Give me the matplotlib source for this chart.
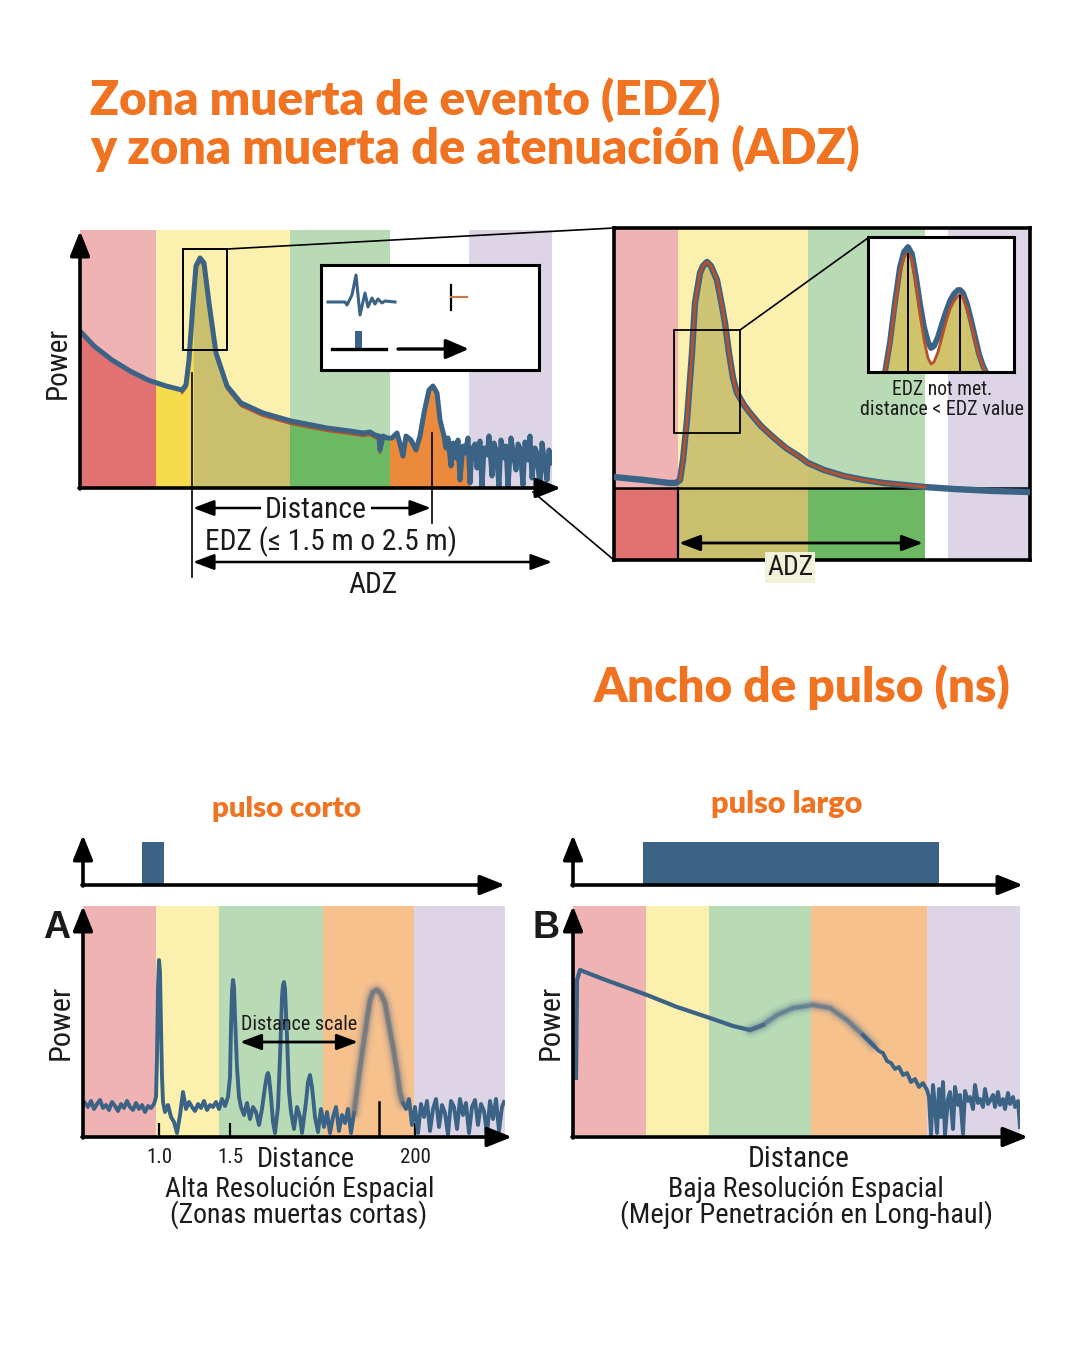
import matplotlib
matplotlib.use("Agg")
import matplotlib.pyplot as plt
from matplotlib import font_manager as fm
from matplotlib.patches import Rectangle

# ------------------------------------------------------------------ data
# Panel 1: OTDR trace, distance vs power (arbitrary units)
p1_dist = [0, 14, 32, 50, 68, 86, 102, 106, 109, 113, 116, 120, 124, 129, 136, 147, 161, 183, 211, 247,
           270, 283, 290, 295, 299, 300, 303, 307, 312, 317, 320, 323, 326, 331, 336, 340, 344, 349, 353, 357,
           360, 364, 366, 368, 371, 373, 376, 378, 380, 383, 385, 388, 390, 392, 395, 397, 400, 402, 404, 407,
           409, 412, 414, 416, 419, 421, 424, 426, 428, 431, 433, 436, 438, 440, 443, 445, 448, 450, 452, 455,
           457, 460, 462, 464, 467, 469, 471]
p1_power = [157, 142, 128, 117, 108, 102, 98, 103, 128, 185, 222, 230, 225, 185, 135, 102, 85, 75, 67, 60,
            57, 55, 56, 53, 52, 38, 52, 50, 50, 55, 44, 32, 52, 48, 38, 52, 75, 98, 102, 95,
            68, 52, 40, 50, 22, 45, 30, 48, 8, 42, 35, 50, 5, 38, 44, 20, 47, 0, 40, 33,
            52, 12, 45, 38, 2, 48, 30, 42, 0, 50, 36, 18, 44, 40, 3, 46, 28, 52, 10, 40,
            35, 0, 45, 30, 8, 38, 25]
p1_zones = [0, 76, 114, 210, 310, 389, 472]

# Panel 2: zoom on the first reflection
p2_dist = [0, 30, 55, 62, 66, 69, 73, 78, 81, 86, 89, 93, 97, 103, 108, 111, 115, 119, 123, 130,
           136, 147, 159, 172, 186, 194, 210, 230, 250, 270, 290, 311, 340, 380, 416]
p2_power = [11, 8, 5, 5, 8, 28, 68, 135, 185, 215, 222, 226, 222, 208, 182, 165, 135, 110, 95, 83,
            75, 62, 51, 40, 31, 25, 18, 12, 8, 5, 3, 1, -1, -3, -4]
p2_zones = [0, 64, 194, 311, 334, 416]

# Panel 3: two unresolved events
p3_dist = [17, 22, 27, 32, 36, 40, 44, 48, 52, 56, 60, 63, 66, 70, 74, 78, 82, 86, 90, 92,
           95, 99, 103, 107, 111, 115, 118]
p3_outer = [0, 30, 70, 105, 120, 125, 118, 95, 68, 45, 30, 24, 26, 35, 48, 60, 71, 78, 82, 82,
            79, 68, 52, 35, 18, 6, 0]
p3_inner = [0, 28, 67, 100, 115, 119, 112, 88, 58, 32, 14, 8, 10, 20, 35, 50, 63, 71, 76, 77,
            74, 63, 48, 32, 16, 5, 0]

# legend wavelet
wave_t = [7, 24, 26, 31, 35, 39, 44, 47, 51, 54, 57, 61, 64, 74]
wave_amp = [68, 68, 65, 75, 95, 55, 77, 63, 72, 66, 71, 67, 69, 68]

# pulses: start, width (time units), height
pulse_short = [59, 22]
pulse_long = [70, 296]
pulse_height = 43

# Panel A: short pulse trace
a_zones = [0, 73, 136, 240, 331, 422]
a_pre_dist = [2, 5, 8, 11, 14, 17, 20, 23, 26, 29, 32, 35, 38, 41, 44, 47, 50, 53, 56, 59, 62, 65, 68, 71,
              73, 74, 75, 76, 77, 78, 79, 80, 82, 85, 88, 91, 94, 97,
              100, 103, 106, 109, 112, 115, 118, 121, 124, 127, 130, 133, 136, 139, 142, 145,
              147, 148, 149, 150, 151, 152, 154, 156, 158,
              161, 164, 167, 170, 173, 176, 179,
              182, 184, 185, 186, 188, 190, 192,
              195, 197, 199, 200, 201, 202, 204, 206, 208,
              211, 214, 217, 219, 223, 225, 227, 229, 232, 235,
              238, 241, 244, 247, 250, 253, 256, 259, 262, 265, 268, 271]
a_pre_power = [34, 30, 36, 28, 33, 37, 29, 32, 27, 35, 31, 26, 33, 29, 36, 30, 27, 34, 28, 32, 25, 31, 29, 33,
               40, 80, 150, 177, 165, 110, 60, 35, 25, 32, 20, 15, 4, 22,
               45, 28, 35, 30, 26, 33, 29, 36, 27, 32, 30, 35, 28, 38, 31, 40,
               60, 110, 145, 157, 150, 120, 70, 40, 30,
               22, 34, 18, 30, 25, 12, 28,
               50, 62, 64, 60, 40, 15, 4,
               30, 80, 140, 152, 155, 148, 100, 45, 25,
               8, 30, 20, 4, 35, 55, 62, 50, 20, 5,
               28, 10, 25, 4, 20, 30, 6, 22, 14, 28, 4, 24]
a_bump_dist = [271, 276, 280, 284, 287, 290, 294, 298, 302, 306, 310, 314, 317, 320]
a_bump_power = [24, 62, 90, 118, 137, 145, 147, 143, 134, 112, 90, 66, 44, 34]
a_post_dist = [320, 323, 326, 329, 332, 335, 338, 341, 344, 347, 350, 353, 356, 359, 362, 365, 368, 371,
               374, 377, 380, 383, 386, 389, 392, 395, 398, 401, 404, 407, 410, 413, 416, 419, 421]
a_post_power = [34, 28, 38, 12, 30, 4, 33, 20, 36, 6, 28, 38, 10, 32, 24, 2, 36, 30,
                8, 38, 22, 34, 4, 30, 37, 12, 33, 26, 3, 36, 18, 38, 6, 30, 35]
a_ticks = [76, 147, 332]
a_tick_labels = ["1.0", "1.5", "200"]
a_marker = [296, 35]

# Panel B: long pulse trace
b_zones = [0, 73, 136, 238, 354, 447]
b_dist = [3, 4, 7, 30, 52, 74, 104, 137, 160, 177, 190, 204, 220, 240, 257, 274, 290, 300, 306, 310,
          314, 318, 322, 326, 330, 334, 338, 342, 346, 350, 354,
          356, 358, 360, 362, 364, 366, 368, 370, 372, 375, 377, 380, 382, 385, 387, 390, 392, 395, 397, 400,
          402, 405, 407, 410, 412, 415, 417, 420, 422, 425, 427, 430, 432, 435, 437, 440, 442, 445, 447]
b_power = [59, 157, 167, 158, 150, 142, 130, 119, 111, 107, 112, 122, 129, 132, 129, 117, 102, 92, 86, 84,
           76, 74, 68, 70, 62, 64, 55, 58, 50, 54, 47,
           40, 2, 52, 30, 4, 48, 20, 55, 2, 38, 45, 8, 50, 32, 42, 3, 46, 36, 40, 28,
           52, 34, 38, 30, 48, 33, 36, 42, 30, 45, 32, 38, 28, 44, 33, 40, 30, 36, 10]

# ------------------------------------------------------------------ style
W, H = 1080, 1350
names = {f.name for f in fm.fontManager.ttflist}
COND = next(n for n in ["Liberation Sans Narrow", "Roboto Condensed", "Roboto", "Liberation Sans", "DejaVu Sans"] if n in names)
TITLEF = next(n for n in ["Lato", "Open Sans", "Roboto", "DejaVu Sans"] if n in names)
plt.rcParams["font.family"] = [COND, "DejaVu Sans"]

ORANGE = "#EF7321"
BLUE = "#3B6385"
REDL = "#B8502B"
TXT = "#1b1b1b"
PALE = {"red": "#F0B3B3", "yel": "#FBF0AE", "grn": "#B8DAB5", "org": "#F7C18E", "pur": "#DDD5E5", "wht": "#FFFFFF"}
DEEP = {"red": "#E27272", "yel": "#F6DB4C", "olv": "#C9BF6C", "grn": "#6DB862", "org": "#EA8A3A"}

fig = plt.figure(figsize=(10.8, 13.5), dpi=100)
fig.patch.set_facecolor("white")
renderer = fig.canvas.get_renderer()


def px_axes(x0, y0, x1, y1, z=1):
    ax = fig.add_axes([x0 / W, 1 - y1 / H, (x1 - x0) / W, (y1 - y0) / H], zorder=z)
    return ax


def bare(ax):
    ax.set_xticks([])
    ax.set_yticks([])
    for s in ax.spines.values():
        s.set_visible(False)
    ax.patch.set_visible(False)


def label(x, y, s, w=None, h=None, size=16, **kw):
    kw.setdefault("ha", "center")
    kw.setdefault("va", "baseline")
    kw.setdefault("color", TXT)
    kw.setdefault("zorder", 40)
    t = fig.text(x / W, 1 - y / H, s, fontsize=size, **kw)
    if w or h:
        bb = t.get_window_extent(renderer)
        f = (w / bb.width) if w else (h / bb.height)
        t.set_fontsize(size * f)
    return t


def bands(ax, edges, cols, y0, y1):
    for a, b, c in zip(edges[:-1], edges[1:], cols):
        ax.add_patch(Rectangle((a, y0), b - a, y1 - y0, color=c, lw=0, zorder=0))


def zone_fill(ax, x, y, edges, cols, top):
    for a, b, c in zip(edges[:-1], edges[1:], cols):
        if c is None:
            continue
        poly = ax.fill_between(x, 0, y, color=c, lw=0, zorder=1)
        clip = Rectangle((a, 0), b - a, top, transform=ax.transData)
        poly.set_clip_path(clip)


# ------------------------------------------------------------------ titles
label(90, 115, "Zona muerta de evento (EDZ)", w=630, size=30, ha="left", color=ORANGE,
      family=TITLEF, fontweight="heavy")
label(90, 164, "y zona muerta de atenuación (ADZ)", w=768, size=30, ha="left", color=ORANGE,
      family=TITLEF, fontweight="heavy")
label(1010, 702, "Ancho de pulso (ns)", w=417, size=30, ha="right", color=ORANGE,
      family=TITLEF, fontweight="heavy")
label(287, 817, "pulso corto", w=149, size=18, color=ORANGE, family=TITLEF, fontweight="heavy")
label(787, 813, "pulso largo", w=151, size=18, color=ORANGE, family=TITLEF, fontweight="heavy")

# ------------------------------------------------------------------ panel 1
ax1 = px_axes(80, 230, 552, 488)
ax1.set_xlim(0, 472)
ax1.set_ylim(0, 258)
bare(ax1)
bands(ax1, p1_zones, [PALE["red"], PALE["yel"], PALE["yel"], PALE["grn"], PALE["wht"], PALE["pur"]], 0, 258)
zone_fill(ax1, p1_dist, p1_power, p1_zones,
          [DEEP["red"], DEEP["yel"], DEEP["olv"], DEEP["grn"], DEEP["org"], None], 258)
sel = [i for i, d in enumerate(p1_dist) if 100 <= d <= 300]
ax1.plot([p1_dist[i] for i in sel], [p1_power[i] - 3 for i in sel], color=REDL, lw=1.6, zorder=2)
ax1.plot(p1_dist, p1_power, color=BLUE, lw=3.6, zorder=3, solid_joinstyle="round")
ax1.add_patch(Rectangle((103, 138), 44, 101, fill=False, ec="black", lw=1.4, zorder=4))

# legend inset
axI = px_axes(321, 265, 539, 370, z=3)
axI.set_xlim(0, 218)
axI.set_ylim(0, 105)
axI.set_xticks([])
axI.set_yticks([])
for s in axI.spines.values():
    s.set_linewidth(2.2)
axI.plot(wave_t, wave_amp, color=BLUE, lw=2.2, solid_joinstyle="round")
axI.plot([130, 130], [60, 85], color="black", lw=1.6)
axI.plot([130, 146], [73, 73], color="#C97A45", lw=1.6)
axI.plot([11, 65], [21, 21], color="black", lw=2.4)
axI.add_patch(Rectangle((34, 21), 7, 18, color=BLUE, lw=0))
axI.annotate("", xy=(148, 21), xytext=(77, 21),
             arrowprops=dict(arrowstyle="-|>,head_length=0.7,head_width=0.3", lw=2.4, color="black",
                             shrinkA=0, shrinkB=0, mutation_scale=20))

# ------------------------------------------------------------------ panel 2
ax2 = px_axes(614, 228, 1030, 560)
ax2.set_xlim(0, 416)
ax2.set_ylim(-72, 260)
ax2.set_xticks([])
ax2.set_yticks([])
for s in ax2.spines.values():
    s.set_linewidth(2.6)
bands(ax2, p2_zones, [PALE["red"], PALE["yel"], PALE["grn"], PALE["wht"], PALE["pur"]], 0, 260)
bands(ax2, p2_zones, [DEEP["red"], DEEP["olv"], DEEP["grn"], PALE["wht"], PALE["pur"]], -72, 0)
poly = ax2.fill_between(p2_dist, 0, p2_power, color=DEEP["olv"], lw=0, zorder=1, alpha=0.9)
poly.set_clip_path(Rectangle((p2_zones[1], 0), p2_zones[3] - p2_zones[1], 260, transform=ax2.transData))
ax2.axhline(0, color="black", lw=1.8, zorder=2)
ax2.plot([p2_zones[1], p2_zones[1]], [-72, 0], color="black", lw=1.6, zorder=2)
ax2.plot(p2_dist, p2_power, color=BLUE, lw=4.6, zorder=3, solid_joinstyle="round", solid_capstyle="round")
sel2 = [i for i, d in enumerate(p2_dist) if p2_zones[1] <= d <= p2_zones[3]]
ax2.plot([p2_dist[i] for i in sel2], [p2_power[i] for i in sel2], color=REDL, lw=2.0, zorder=4,
         solid_joinstyle="round")
ax2.add_patch(Rectangle((60, 55), 66, 103, fill=False, ec="black", lw=1.3, zorder=5))

# inset: two peaks
ax3 = px_axes(868, 237, 1014, 372, z=3)
ax3.set_xlim(0, 146)
ax3.set_ylim(0, 135)
ax3.set_xticks([])
ax3.set_yticks([])
for s in ax3.spines.values():
    s.set_linewidth(2.2)
ax3.fill_between(p3_dist, 0, p3_inner, color="#CFC46B", lw=0)
ax3.plot(p3_dist, p3_outer, color=BLUE, lw=4.2, solid_joinstyle="round")
ax3.plot(p3_dist, p3_inner, color=REDL, lw=2.0, solid_joinstyle="round")
half = len(p3_dist) // 2
i1 = max(range(0, half), key=lambda i: p3_inner[i])
i2 = max(range(half, len(p3_dist)), key=lambda i: p3_inner[i])
ax3.vlines([p3_dist[i1], p3_dist[i2]], 0, [p3_inner[i1], p3_inner[i2]], color="black", lw=1.4)

label(942, 395, "EDZ not met.", w=100, size=13)
label(942, 415, "distance < EDZ value", w=163, size=13)

# ------------------------------------------------------------------ bottom: pulses
pA = px_axes(83, 835, 505, 885)
pA.set_xlim(0, 422)
pA.set_ylim(0, 50)
bare(pA)
pA.bar(pulse_short[0], pulse_height, width=pulse_short[1], align="edge", color=BLUE, lw=0)

pB = px_axes(573, 835, 1023, 885)
pB.set_xlim(0, 450)
pB.set_ylim(0, 50)
bare(pB)
pB.bar(pulse_long[0], pulse_height, width=pulse_long[1], align="edge", color=BLUE, lw=0)

# ------------------------------------------------------------------ panel A
axA = px_axes(83, 906, 505, 1137)
axA.set_xlim(0, 422)
axA.set_ylim(0, 231)
for s in axA.spines.values():
    s.set_visible(False)
axA.patch.set_visible(False)
axA.set_yticks([])
bands(axA, a_zones, [PALE["red"], PALE["yel"], PALE["grn"], PALE["org"], PALE["pur"]], 0, 231)
axA.plot(a_pre_dist, a_pre_power, color=BLUE, lw=2.8, zorder=3, solid_joinstyle="round")
axA.plot(a_post_dist, a_post_power, color=BLUE, lw=2.8, zorder=3, solid_joinstyle="round")
for lw, al in [(13, 0.06), (9, 0.10), (6.5, 0.16), (4.5, 0.30), (3, 0.55)]:
    axA.plot(a_bump_dist, a_bump_power, color="#54697E", lw=lw, alpha=al, zorder=3,
             solid_capstyle="round", solid_joinstyle="round")
axA.plot([a_marker[0], a_marker[0]], [0, a_marker[1]], color="black", lw=1.8, zorder=4)
axA.set_xticks(a_ticks)
axA.set_xticklabels(a_tick_labels)
axA.tick_params(axis="x", direction="in", length=10, width=1.6, color="black", pad=8,
                labelsize=15, labelcolor=TXT)

# ------------------------------------------------------------------ panel B
axB = px_axes(573, 906, 1020, 1137)
axB.set_xlim(0, 447)
axB.set_ylim(0, 231)
bare(axB)
bands(axB, b_zones, [PALE["red"], PALE["yel"], PALE["grn"], PALE["org"], PALE["pur"]], 2, 231)
s1 = [i for i, d in enumerate(b_dist) if d <= 190]
s2 = [i for i, d in enumerate(b_dist) if 177 <= d <= 300]
s3 = [i for i, d in enumerate(b_dist) if d >= 290]
axB.plot([b_dist[i] for i in s1], [b_power[i] for i in s1], color=BLUE, lw=3.0, zorder=3,
         solid_joinstyle="round")
for lw, al in [(12, 0.07), (8.5, 0.11), (6, 0.18), (4, 0.32), (2.6, 0.55)]:
    axB.plot([b_dist[i] for i in s2], [b_power[i] for i in s2], color="#4F6F8C", lw=lw, alpha=al,
             zorder=3, solid_capstyle="round", solid_joinstyle="round")
axB.plot([b_dist[i] for i in s3], [b_power[i] for i in s3], color=BLUE, lw=2.8, zorder=3,
         solid_joinstyle="round")

# ------------------------------------------------------------------ overlay (axes arrows, annotations)
ov = fig.add_axes([0, 0, 1, 1], zorder=20)
ov.set_xlim(0, W)
ov.set_ylim(H, 0)
ov.axis("off")
ov.patch.set_visible(False)


def arrow(x0, y0, x1, y1, style="-|>", lw=2.6, hl=0.75, hw=0.3, ms=20, color="black"):
    ov.annotate("", xy=(x1, y1), xytext=(x0, y0),
                arrowprops=dict(arrowstyle=f"{style},head_length={hl},head_width={hw}", lw=lw,
                                color=color, shrinkA=0, shrinkB=0, mutation_scale=ms))


# panel 1 axes
arrow(80, 489, 80, 231)
arrow(79, 488, 561, 488)
# connectors
ov.plot([227, 614], [249, 228], color="black", lw=1.2)
ov.plot([533, 614], [492, 560], color="black", lw=1.2)
ov.plot([740, 868], [330, 238], color="black", lw=1.2)
# EDZ / ADZ annotations
ov.plot([192, 192], [373, 577], color="black", lw=1.2)
ov.plot([432, 432], [433, 523], color="black", lw=1.2)
arrow(193, 508, 431, 508, style="<|-|>", lw=1.8, hl=0.8, hw=0.3, ms=16)
label(316, 518, "Distance", w=102, size=20, bbox=dict(fc="white", ec="none", pad=3))
label(331, 550, "EDZ (≤ 1.5 m o 2.5 m)", w=252, size=20)
arrow(193, 562, 552, 562, style="<|-|>", lw=1.8, hl=0.8, hw=0.3, ms=16)
label(373, 593, "ADZ", w=49, size=20)
label(58, 363, "Power", h=72, size=20, va="center", rotation=90)

# right panel ADZ
arrow(679, 543, 923, 543, style="<|-|>", lw=2.0, hl=0.8, hw=0.3, ms=16)
label(790, 575, "ADZ", w=46, size=20, bbox=dict(fc="#F2F1D9", ec="none", pad=1.5))

# pulse axes
arrow(83, 886, 83, 835)
arrow(82, 885, 505, 885)
arrow(573, 886, 573, 835)
arrow(572, 885, 1023, 885)
# panel A/B axes
arrow(83, 1138, 83, 906)
arrow(82, 1137, 512, 1137)
arrow(573, 1138, 573, 906)
arrow(572, 1137, 1028, 1137)

arrow(240, 1042, 358, 1042, style="<|-|>", lw=2.0, hl=0.8, hw=0.3, ms=16)
label(299, 1030, "Distance scale", w=116, size=13)

label(57, 938, "A", size=27, fontweight="bold", family="Liberation Sans")
label(546, 938, "B", size=27, fontweight="bold", family="Liberation Sans")
label(61, 1022, "Power", h=75, size=20, va="center", rotation=90)
label(551, 1022, "Power", h=75, size=20, va="center", rotation=90)

label(306, 1167, "Distance", w=98, size=20)
label(300, 1197, "Alta Resolución Espacial", w=270, size=18)
label(299, 1223, "(Zonas muertas cortas)", w=258, size=18)
label(799, 1167, "Distance", w=102, size=20)
label(806, 1197, "Baja Resolución Espacial", w=277, size=18)
label(807, 1223, "(Mejor Penetración en Long-haul)", w=373, size=18)

fig.savefig("out.png", dpi=100, facecolor="white")
